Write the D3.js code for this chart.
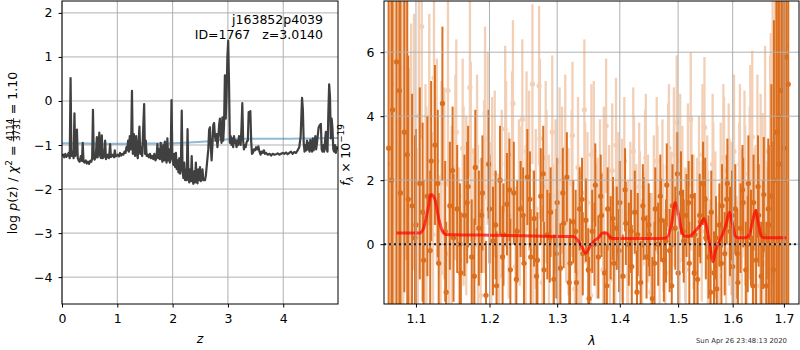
<!DOCTYPE html>
<html>
<head>
<meta charset="utf-8">
<script src="https://cdn.jsdelivr.net/npm/d3@7"></script>
<style>
body { margin: 0; background: #fff; }
svg { font-family: "DejaVu Sans", sans-serif; }
</style>
</head>
<body>
<script>
// left panel: log p(z), [z, value]
const logPz = [
  [0.00,-1.25],[0.02,-1.22],[0.04,-1.28],[0.06,-1.20],[0.08,-1.27],[0.10,-1.24],[0.12,-1.18],[0.14,-1.30],
  [0.155,0.52],[0.17,-1.25],[0.19,-1.15],[0.21,-1.30],[0.225,-0.28],[0.24,-1.25],[0.26,-1.10],[0.27,-0.65],
  [0.285,-1.30],[0.30,-1.35],[0.32,-1.38],[0.34,-1.25],[0.36,-1.36],[0.375,-0.95],[0.39,-1.38],[0.41,-1.40],
  [0.43,-1.35],[0.45,-1.42],[0.47,-1.38],[0.49,-1.43],[0.51,-1.36],[0.53,-1.38],[0.545,-1.30],[0.56,-0.20],
  [0.575,-1.30],[0.59,-1.33],[0.61,-1.28],[0.63,-0.82],[0.645,-1.28],[0.66,-1.05],[0.675,-0.72],[0.69,-1.25],
  [0.705,-1.30],[0.72,-0.78],[0.735,-1.30],[0.75,-1.28],[0.765,-1.25],[0.78,-0.90],[0.795,-1.32],[0.81,-1.28],
  [0.83,-1.22],[0.85,-1.30],[0.87,-0.98],[0.885,-1.27],[0.90,-1.25],[0.92,-1.22],[0.94,-1.28],[0.955,-1.12],
  [0.97,-1.26],[0.99,-1.24],[1.01,-1.22],[1.03,-1.26],[1.05,-1.18],[1.07,-1.24],[1.09,-1.20],[1.11,-1.22],
  [1.13,-1.15],[1.15,-1.18],[1.165,-1.05],[1.18,-1.12],[1.195,-0.90],[1.21,-1.15],[1.225,-0.80],[1.24,-1.10],
  [1.25,-0.95],[1.265,0.23],[1.28,-1.20],[1.30,-0.75],[1.32,-1.25],[1.34,-0.80],[1.355,-1.20],[1.37,-1.30],
  [1.385,-0.90],[1.40,-0.58],[1.415,-1.20],[1.43,-1.05],[1.45,-1.25],[1.47,-0.55],[1.485,-0.07],[1.50,-1.20],
  [1.515,-0.90],[1.53,-1.25],[1.55,-1.22],[1.57,-1.28],[1.59,-1.20],[1.61,-1.30],[1.63,-1.25],[1.65,-1.32],
  [1.67,-1.20],[1.69,-1.35],[1.71,-1.28],[1.725,-0.98],[1.74,-1.30],[1.755,-1.10],[1.77,-1.32],[1.785,-0.95],
  [1.80,-1.25],[1.815,-1.38],[1.83,-1.00],[1.845,-1.35],[1.86,-0.92],[1.875,-1.30],[1.89,-1.40],[1.905,-0.85],
  [1.92,-1.35],[1.935,-1.10],[1.95,-1.40],[1.965,-1.25],[1.98,0.02],[1.995,-1.30],[2.015,-1.45],[2.03,-1.20],
  [2.045,-1.50],[2.06,-1.18],[2.075,-1.55],[2.09,-1.35],[2.105,-1.62],[2.12,-1.30],[2.135,-1.65],[2.15,-1.45],
  [2.165,-0.22],[2.18,-1.60],[2.195,-1.75],[2.21,-1.40],[2.225,-1.80],[2.24,-1.55],[2.255,-1.80],[2.27,-0.64],
  [2.285,-1.70],[2.30,-1.85],[2.315,-1.55],[2.33,-1.82],[2.345,-1.25],[2.36,-1.80],[2.375,-1.88],[2.39,-1.60],
  [2.405,-1.85],[2.42,-1.40],[2.435,-1.82],[2.45,-1.87],[2.465,-1.55],[2.48,-1.80],[2.495,-1.50],[2.51,-1.82],
  [2.525,-1.78],[2.54,-1.55],[2.555,-1.80],[2.57,-1.78],[2.585,-1.80],[2.60,-1.70],[2.615,-1.50],[2.63,-1.30],
  [2.645,-1.10],[2.66,-0.65],[2.675,-0.60],[2.69,-1.05],[2.705,-1.35],[2.72,-1.00],[2.735,-0.55],[2.75,-0.50],
  [2.765,-0.80],[2.78,-0.90],[2.795,-0.75],[2.81,-1.05],[2.825,-0.85],[2.84,-0.55],[2.855,-0.40],[2.87,-0.80],
  [2.885,-0.95],[2.90,-0.37],[2.915,-0.90],[2.93,-0.55],[2.945,0.58],[2.96,-0.40],[2.975,0.10],[2.99,1.00],
  [3.005,1.37],[3.02,0.40],[3.035,-0.95],[3.05,-0.80],[3.065,-1.00],[3.08,-0.85],[3.095,-1.05],[3.11,-0.80],
  [3.125,-0.95],[3.14,-0.90],[3.155,-1.05],[3.17,-0.90],[3.185,-1.00],[3.20,-0.80],[3.215,-0.85],[3.23,-1.00],
  [3.245,-0.60],[3.26,-0.05],[3.275,-0.90],[3.29,-1.10],[3.305,-1.00],[3.32,-1.05],[3.335,-0.95],[3.35,-0.90],
  [3.36,-0.90],[3.375,-0.25],[3.39,-0.35],[3.405,-0.23],[3.42,-0.90],[3.435,-1.20],[3.45,-1.18],[3.47,-1.10],
  [3.49,-1.12],[3.51,-1.05],[3.53,-1.10],[3.55,-1.03],[3.57,-1.15],[3.59,-1.22],[3.61,-1.15],[3.63,-1.18],
  [3.65,-1.12],[3.67,-1.20],[3.69,-1.18],[3.72,-1.22],[3.75,-1.20],[3.78,-1.24],[3.81,-1.20],[3.84,-1.22],
  [3.87,-1.21],[3.90,-1.19],[3.93,-1.22],[3.96,-1.20],[3.99,-1.18],[4.02,-1.20],[4.05,-1.17],[4.08,-1.21],
  [4.11,-1.18],[4.14,-1.15],[4.17,-1.20],[4.20,-1.16],[4.23,-1.18],[4.26,-1.12],[4.29,-1.05],[4.315,-0.80],
  [4.34,0.07],[4.355,-0.20],[4.37,-0.95],[4.385,-1.15],[4.40,-1.00],[4.415,-1.12],[4.43,-0.90],[4.445,-1.10],
  [4.46,-0.95],[4.475,-1.15],[4.49,-0.88],[4.505,-1.05],[4.52,-1.15],[4.535,-0.85],[4.55,-1.12],[4.565,-1.00],
  [4.58,-0.80],[4.595,-1.10],[4.61,-0.95],[4.64,-0.60],[4.66,-0.55],[4.68,-0.52],[4.695,-1.10],[4.71,-1.15],
  [4.725,-1.00],[4.74,-1.15],[4.755,-0.92],[4.77,-0.70],[4.785,-1.10],[4.80,-1.15],[4.815,-0.30],[4.83,0.38],
  [4.845,0.10],[4.86,-0.85],[4.875,-0.40],[4.89,-0.62],[4.905,-1.10],[4.92,-1.15],[4.935,-1.00],[4.95,-1.18],
  [4.97,-1.05],[4.99,-1.10]
];
const priorPz = [
  [0,-0.96],[0.5,-0.965],[1,-0.97],[1.5,-0.965],[2,-0.96],[2.3,-0.945],[2.6,-0.92],[2.9,-0.88],
  [3.2,-0.86],[3.5,-0.855],[4,-0.86],[4.5,-0.85],[4.99,-0.84]
];
const zTicks = [0, 1, 2, 3, 4];
const pzTicks = [-4, -3, -2, -1, 0, 1, 2];

// right panel: spectra [lambda, flux, err]
const specDark = [
  [1.065,3.0,9],[1.070,4.2,9],[1.075,5.7,9],[1.080,1.6,8],[1.085,3.5,5],[1.090,1.4,4.5],[1.095,1.2,3.5],[1.100,0.6,3],
  [1.105,1.9,3],[1.110,-0.5,2.5],[1.115,1.5,2.5],[1.120,2.6,2.5],[1.125,3.1,2.5],[1.130,-0.6,2.2],[1.135,4.4,2.4],[1.140,-1.5,2.2],
  [1.145,1.2,2],[1.150,0.2,2],[1.155,1.1,2],[1.160,-0.9,1.9],[1.165,0.9,1.9],[1.170,1.8,1.9],[1.175,-0.4,1.8],[1.180,2.4,1.8],
  [1.185,0.5,1.8],[1.190,1.6,1.8],[1.195,-1.6,1.7],[1.200,1.1,1.7],[1.205,0.1,1.7],[1.210,-1.3,1.7],[1.215,2.0,1.7],[1.220,0.3,1.6],
  [1.225,1.25,1.6],[1.230,-0.8,1.6],[1.235,1.6,1.6],[1.240,0.4,1.6],[1.245,1.1,1.5],[1.250,-0.6,1.5],[1.255,2.1,1.5],[1.260,-0.4,1.5],
  [1.265,0.8,1.5],[1.270,-0.5,1.5],[1.275,1.5,1.5],[1.280,-0.8,1.5],[1.285,0.3,1.4],[1.290,1.0,1.4],[1.295,-1.1,1.4],[1.300,1.3,1.4],
  [1.305,-0.75,1.4],[1.310,0.65,1.4],[1.315,2.1,1.4],[1.320,-0.6,1.4],[1.325,0.7,1.3],[1.330,-1.2,1.3],[1.335,1.1,1.3],[1.340,-0.3,1.3],
  [1.345,0.75,1.3],[1.350,-1.7,1.3],[1.355,0.4,1.3],[1.360,1.85,1.3],[1.365,-0.4,1.3],[1.370,0.9,1.3],[1.375,-0.9,1.3],[1.380,1.1,1.3],
  [1.385,0.2,1.3],[1.390,-0.6,1.3],[1.395,0.5,1.3],[1.400,1.3,1.3],[1.405,-1.0,1.3],[1.410,0.65,1.3],[1.415,0.0,1.3],[1.420,-0.7,1.3],
  [1.425,1.0,1.3],[1.430,0.3,1.3],[1.435,-1.2,1.3],[1.440,0.8,1.3],[1.445,-0.4,1.3],[1.450,0.3,1.3],[1.455,-1.7,1.3],[1.460,1.1,1.3],
  [1.465,0.0,1.3],[1.470,0.75,1.3],[1.475,-0.5,1.3],[1.480,1.85,1.3],[1.485,-0.2,1.3],[1.490,1.2,1.3],[1.495,0.5,1.3],[1.500,-0.9,1.3],
  [1.505,1.6,1.3],[1.510,0.1,1.3],[1.515,0.9,1.3],[1.520,-0.6,1.3],[1.525,1.5,1.3],[1.530,0.3,1.3],[1.535,-1.1,1.3],[1.540,0.7,1.3],
  [1.545,1.9,1.3],[1.550,0.2,1.3],[1.555,-0.4,1.3],[1.560,1.0,1.3],[1.565,-0.9,1.3],[1.570,-1.4,1.3],[1.575,0.6,1.3],[1.580,1.2,1.3],
  [1.585,-0.3,1.3],[1.590,1.9,1.4],[1.595,0.4,1.4],[1.600,-0.7,1.4],[1.605,1.1,1.4],[1.610,-1.2,1.4],[1.615,0.5,1.4],[1.620,1.3,1.4],
  [1.625,-0.8,1.5],[1.630,1.9,1.5],[1.635,0.2,1.5],[1.640,1.3,1.5],[1.645,-0.5,1.6],[1.650,0.9,1.6],[1.655,-1.0,1.7],[1.660,1.55,1.8],
  [1.665,-1.3,2],[1.670,0.6,2.5],[1.675,1.5,3.5],[1.680,2.0,5],[1.685,3.5,8],[1.690,2.5,9],[1.695,4.8,9],[1.700,3.0,9],
  [1.705,5.85,9]
];
const specDark2 = [
  [1.06875,2.0,9],[1.07875,4.8,9],[1.08875,2.8,4.8],[1.09875,0.2,3.2],[1.10875,1.0,2.8],[1.11875,-0.2,2.5],[1.12875,1.9,2.3],[1.13875,0.4,2.2],
  [1.14875,2.3,2.0],[1.15875,0.0,1.9],[1.16875,1.3,1.9],[1.17875,-1.0,1.8],[1.18875,0.9,1.8],[1.19875,2.5,1.7],[1.20875,0.6,1.7],[1.21875,-0.4,1.6],
  [1.22875,1.7,1.6],[1.23875,-1.1,1.6],[1.24875,0.9,1.5],[1.25875,1.4,1.5],[1.26875,-1.0,1.5],[1.27875,2.2,1.5],[1.28875,0.2,1.4],[1.29875,-0.3,1.4],
  [1.30875,1.6,1.4],[1.31875,-1.2,1.4],[1.32875,0.4,1.3],[1.33875,1.4,1.3],[1.34875,-0.8,1.3],[1.35875,0.0,1.3],[1.36875,1.5,1.3],[1.37875,-1.3,1.3],
  [1.38875,0.8,1.3],[1.39875,-0.2,1.3],[1.40875,1.7,1.3],[1.41875,0.4,1.3],[1.42875,-1.5,1.3],[1.43875,1.2,1.3],[1.44875,0.6,1.3],[1.45875,-0.6,1.3],
  [1.46875,1.5,1.3],[1.47875,0.1,1.3],[1.48875,-1.3,1.3],[1.49875,2.2,1.3],[1.50875,0.4,1.3],[1.51875,1.3,1.3],[1.52875,-0.9,1.3],[1.53875,0.9,1.3],
  [1.54875,1.4,1.3],[1.55875,-1.5,1.3],[1.56875,0.2,1.3],[1.57875,-0.6,1.3],[1.58875,1.4,1.4],[1.59875,0.9,1.4],[1.60875,-0.3,1.4],[1.61875,1.7,1.4],
  [1.62875,0.0,1.5],[1.63875,-1.3,1.5],[1.64875,1.8,1.6],[1.65875,0.3,1.7],[1.66875,1.1,2.2],[1.67875,-0.8,4],[1.68875,4.0,9],[1.69875,2.0,9],
  [1.70875,5.0,9]
];
const specLight = [
  [1.0675,2.5,9],[1.0725,5.0,9],[1.0775,3.8,9],[1.0825,2.0,7],[1.0875,4.5,5],[1.0925,1.0,4.5],[1.0975,3.2,4],[1.1025,-0.8,3.8],
  [1.1075,6.8,3.5],[1.1125,1.5,3.5],[1.1175,3.9,3.3],[1.1225,0.3,3.2],[1.1275,2.6,3.2],[1.1325,-0.9,3.0],[1.1375,1.9,3.0],[1.1425,4.8,3.0],
  [1.1475,0.8,2.9],[1.1525,2.4,2.9],[1.1575,-0.5,2.9],[1.1625,3.0,2.8],[1.1675,1.2,2.8],[1.1725,4.9,2.8],[1.1775,0.2,2.8],[1.1825,2.6,2.7],
  [1.1875,-1.6,2.7],[1.1925,1.8,2.7],[1.1975,3.3,2.7],[1.2025,0.5,2.7],[1.2075,2.2,2.6],[1.2125,-0.4,2.6],[1.2175,1.6,2.6],[1.2225,3.6,2.6],
  [1.2275,0.9,2.6],[1.2325,2.8,2.6],[1.2375,-0.7,2.5],[1.2425,1.4,2.5],[1.2475,3.9,2.5],[1.2525,0.6,2.5],[1.2575,2.3,2.5],[1.2625,5.0,2.5],
  [1.2675,1.1,2.5],[1.2725,4.95,2.5],[1.2775,-1.2,2.4],[1.2825,2.7,2.4],[1.2875,0.4,2.4],[1.2925,3.5,2.4],[1.2975,1.5,2.4],[1.3025,-0.6,2.3],
  [1.3075,2.0,2.3],[1.3125,3.0,2.3],[1.3175,0.7,2.3],[1.3225,1.9,2.3],[1.3275,-1.4,2.2],[1.3325,2.4,2.2],[1.3375,0.1,2.2],[1.3425,4.2,2.2],
  [1.3475,1.3,2.2],[1.3525,-1.6,2.2],[1.3575,2.9,2.2],[1.3625,0.4,2.1],[1.3675,1.8,2.1],[1.3725,-0.8,2.1],[1.3775,3.7,2.1],[1.3825,1.0,2.1],
  [1.3875,2.3,2.1],[1.3925,-0.3,2.1],[1.3975,1.5,2.0],[1.4025,0.2,2.0],[1.4075,2.6,2.0],[1.4125,-1.0,2.0],[1.4175,1.2,2.0],[1.4225,2.9,2.0],
  [1.4275,0.5,2.0],[1.4325,1.8,2.0],[1.4375,-0.6,2.0],[1.4425,2.2,2.0],[1.4475,0.8,2.0],[1.4525,-1.5,2.0],[1.4575,1.4,2.0],[1.4625,2.6,2.0],
  [1.4675,0.0,2.0],[1.4725,1.9,2.0],[1.4775,-0.9,2.0],[1.4825,2.4,2.0],[1.4875,0.9,2.0],[1.4925,2.8,2.1],[1.4975,3.8,2.1],[1.5025,-0.5,2.1],
  [1.5075,1.6,2.1],[1.5125,0.3,2.1],[1.5175,2.3,2.1],[1.5225,3.9,2.1],[1.5275,0.7,2.1],[1.5325,-1.2,2.1],[1.5375,1.8,2.2],[1.5425,0.4,2.2],
  [1.5475,3.65,2.2],[1.5525,1.2,2.2],[1.5575,-0.8,2.2],[1.5625,2.5,2.2],[1.5675,0.6,2.3],[1.5725,-1.4,2.3],[1.5775,1.5,2.3],[1.5825,2.7,2.3],
  [1.5875,-0.2,2.3],[1.5925,2.0,2.4],[1.5975,0.8,2.4],[1.6025,2.9,2.4],[1.6075,-1.0,2.5],[1.6125,1.3,2.5],[1.6175,0.5,2.5],[1.6225,2.2,2.6],
  [1.6275,-0.7,2.6],[1.6325,1.6,2.7],[1.6375,3.35,2.7],[1.6425,0.2,2.8],[1.6475,2.4,2.9],[1.6525,-1.3,3.0],[1.6575,1.0,3.1],[1.6625,2.9,3.3],
  [1.6675,-1.1,3.5],[1.6725,1.9,4],[1.6775,3.7,5],[1.6825,6.0,7],[1.6875,1.5,9],[1.6925,6.5,9],[1.6975,5.5,9],[1.7025,3.0,9]
];
const specLight2 = [
  [1.07375,3.2,9],[1.08375,5.5,8],[1.09375,2.4,4.5],[1.10375,4.0,3.7],[1.11375,0.9,3.4],[1.12375,5.2,3.2],[1.13375,2.1,3.0],[1.14375,-0.3,3.0],
  [1.15375,3.5,2.9],[1.16375,1.5,2.8],[1.17375,2.9,2.8],[1.18375,0.4,2.7],[1.19375,4.1,2.7],[1.20375,1.9,2.7],[1.21375,-1.0,2.6],[1.22375,2.5,2.6],
  [1.23375,4.4,2.6],[1.24375,1.2,2.5],[1.25375,2.9,2.5],[1.26375,-0.2,2.5],[1.27375,3.3,2.5],[1.28375,1.8,2.4],[1.29375,0.1,2.4],[1.30375,2.6,2.3],
  [1.31375,1.1,2.3],[1.32375,3.4,2.3],[1.33375,-0.9,2.2],[1.34375,1.6,2.2],[1.35375,2.8,2.2],[1.36375,0.6,2.1],[1.37375,2.2,2.1],[1.38375,-1.1,2.1],
  [1.39375,3.1,2.1],[1.40375,1.3,2.0],[1.41375,0.0,2.0],[1.42375,2.0,2.0],[1.43375,0.9,2.0],[1.44375,2.7,2.0],[1.45375,-0.4,2.0],[1.46375,1.7,2.0],
  [1.47375,0.5,2.0],[1.48375,3.0,2.0],[1.49375,1.4,2.1],[1.50375,2.6,2.1],[1.51375,-0.8,2.1],[1.52375,1.9,2.1],[1.53375,0.6,2.1],[1.54375,2.8,2.2],
  [1.55375,0.1,2.2],[1.56375,1.6,2.2],[1.57375,-1.0,2.3],[1.58375,2.3,2.3],[1.59375,1.0,2.3],[1.60375,-0.4,2.4],[1.61375,2.5,2.5],[1.62375,1.2,2.5],
  [1.63375,3.0,2.6],[1.64375,0.4,2.7],[1.65375,1.8,2.9],[1.66375,-0.6,3.2],[1.67375,2.6,4],[1.68375,4.5,8],[1.69375,3.4,9],[1.70375,6.2,9]
];
const modelSpec = [
  [1.075,0.35],[1.090,0.35],[1.105,0.35],[1.110,0.5],[1.115,1.0],[1.120,1.55],[1.125,1.4],[1.130,0.8],[1.135,0.4],[1.140,0.3],
  [1.16,0.29],[1.20,0.28],[1.25,0.26],[1.30,0.24],[1.325,0.24],[1.335,0.05],[1.345,-0.28],[1.352,-0.05],[1.358,0.1],[1.365,0.2],
  [1.372,0.35],[1.378,0.35],[1.385,0.2],[1.39,0.18],[1.42,0.18],[1.47,0.18],[1.48,0.2],[1.488,0.6],[1.495,1.3],[1.50,1.0],
  [1.505,0.5],[1.512,0.25],[1.52,0.25],[1.53,0.4],[1.54,0.6],[1.547,0.8],[1.553,0.4],[1.558,-0.1],[1.563,-0.55],[1.568,-0.2],
  [1.575,0.1],[1.582,0.35],[1.588,0.65],[1.594,1.0],[1.60,0.6],[1.605,0.25],[1.61,0.2],[1.625,0.2],[1.632,0.3],[1.638,0.7],
  [1.644,1.05],[1.65,0.6],[1.655,0.25],[1.66,0.2],[1.705,0.2]
];
const lamTicks = [1.1, 1.2, 1.3, 1.4, 1.5, 1.6, 1.7];
const fluxTicks = [0, 2, 4, 6];

const W = 800, H = 350;
const fs = 12.5;
const orange = '#d9650f';

const svg = d3.select('body').append('svg')
  .attr('width', W).attr('height', H);

// ---- left panel ----
const xz = d3.scaleLinear().domain([0, 4.99]).range([62, 338]);
const yp = d3.scaleLinear().domain([-4.61, 2.27]).range([304, 1]);

const defs = svg.append('defs');
defs.append('clipPath').attr('id', 'clipL').append('rect')
  .attr('x', 62).attr('y', 1).attr('width', 276).attr('height', 303);
defs.append('clipPath').attr('id', 'clipR').append('rect')
  .attr('x', 384).attr('y', 1).attr('width', 415).attr('height', 303);

let gL = svg.append('g');
function grid(g, x, y, xt, yt) {
  let gg = g.append('g').attr('stroke', '#b0b0b0').attr('stroke-width', 1);
  xt.forEach(t => gg.append('line').attr('x1', x(t)).attr('x2', x(t))
    .attr('y1', y.range()[0]).attr('y2', y.range()[1]));
  yt.forEach(t => gg.append('line').attr('y1', y(t)).attr('y2', y(t))
    .attr('x1', x.range()[0]).attr('x2', x.range()[1]));
}
grid(gL, xz, yp, zTicks, pzTicks);

let plotL = gL.append('g').attr('clip-path', 'url(#clipL)');
plotL.append('path').datum(priorPz)
  .attr('fill', 'none').attr('stroke', '#1f77b4').attr('stroke-opacity', 0.5).attr('stroke-width', 2)
  .attr('d', d3.line().x(d => xz(d[0])).y(d => yp(d[1])).curve(d3.curveMonotoneX));
plotL.append('path').datum(logPz)
  .attr('fill', 'none').attr('stroke', '#404040').attr('stroke-width', 2.2).attr('stroke-linejoin', 'round')
  .attr('d', d3.line().x(d => xz(d[0])).y(d => yp(d[1])));

function axes(g, x, y, xt, yt, xfmt, yfmt) {
  let ax = g.append('g').attr('transform', 'translate(0,' + y.range()[0] + ')')
    .call(d3.axisBottom(x).tickValues(xt).tickFormat(xfmt).tickSize(3.5).tickPadding(6.5));
  let ay = g.append('g').attr('transform', 'translate(' + x.range()[0] + ',0)')
    .call(d3.axisLeft(y).tickValues(yt).tickFormat(yfmt).tickSize(3.5).tickPadding(6));
  [ax, ay].forEach(a => {
    a.select('.domain').remove();
    a.attr('font-size', fs).attr('font-family', '"DejaVu Sans", sans-serif');
    a.selectAll('line').attr('stroke', '#000').attr('stroke-width', 1);
    a.selectAll('text').attr('fill', '#000');
  });
  g.append('rect').attr('x', x.range()[0]).attr('y', y.range()[1])
    .attr('width', x.range()[1] - x.range()[0]).attr('height', y.range()[0] - y.range()[1])
    .attr('fill', 'none').attr('stroke', '#000').attr('stroke-width', 1);
}
axes(gL, xz, yp, zTicks, pzTicks, d3.format('d'), d3.format('d'));

gL.append('text').attr('x', 323).attr('y', 24).attr('text-anchor', 'end')
  .attr('font-size', fs).text('j163852p4039');
gL.append('text').attr('x', 323).attr('y', 38.5).attr('text-anchor', 'end')
  .attr('font-size', fs).style('white-space', 'pre').text('ID=1767   z=3.0140');

gL.append('text').attr('x', 200).attr('y', 343).attr('text-anchor', 'middle')
  .attr('font-size', fs).attr('font-style', 'italic').text('z');

// left y label, built piece by piece
let labL = svg.append('g');
let cx = 0;
function piece(g, str, opt) {
  opt = opt || {};
  let t = g.append('text').attr('x', cx).attr('y', opt.y || 0)
    .attr('font-size', opt.size || fs)
    .attr('font-style', opt.italic ? 'italic' : 'normal').text(str);
  cx += t.node().getComputedTextLength() + (opt.gap || 0);
  return t;
}
piece(labL, 'log', {gap: 4.5});
piece(labL, 'p', {italic: true});
piece(labL, '(z)', {gap: 4.5});
piece(labL, '/', {gap: 4.5});
piece(labL, 'χ', {italic: true});
piece(labL, '2', {size: 9, y: -5.5, gap: 4});
piece(labL, '=', {gap: 4});
let num = labL.append('text').attr('y', -4.5).attr('font-size', 8.8).attr('text-anchor', 'middle').text('4114');
let den = labL.append('text').attr('y', 3).attr('font-size', 8.8).attr('text-anchor', 'middle').text('3731');
let fw = Math.max(num.node().getComputedTextLength(), den.node().getComputedTextLength()) + 1;
num.attr('x', cx + fw / 2); den.attr('x', cx + fw / 2);
labL.append('line').attr('x1', cx).attr('x2', cx + fw).attr('y1', -3.4).attr('y2', -3.4)
  .attr('stroke', '#000').attr('stroke-width', 0.8);
cx += fw + 4;
piece(labL, '=', {gap: 4});
piece(labL, '1.10');
labL.attr('transform', 'translate(17,153) rotate(-90) translate(' + (-cx / 2) + ',0)');

// ---- right panel ----
const xl = d3.scaleLog().domain([1.0592, 1.7306]).range([384, 799]);
const yf = d3.scaleLinear().domain([-1.87, 7.6]).range([304, 1]);

let gR = svg.append('g');
let plotR = gR.append('g').attr('clip-path', 'url(#clipR)');

function errSpec(g, data, op, w) {
  let s = g.append('g').attr('opacity', op);
  s.selectAll('line').data(data).enter().append('line')
    .attr('x1', d => xl(d[0])).attr('x2', d => xl(d[0]))
    .attr('y1', d => yf(d[1] - d[2])).attr('y2', d => yf(d[1] + d[2]))
    .attr('stroke', orange).attr('stroke-width', w);
  s.selectAll('circle').data(data).enter().append('circle')
    .attr('cx', d => xl(d[0])).attr('cy', d => yf(d[1])).attr('r', 2.6)
    .attr('fill', orange);
}
errSpec(plotR, specLight.concat(specLight2), 0.3, 2.3);
errSpec(plotR, specDark.concat(specDark2), 0.92, 2);

grid(gR, xl, yf, lamTicks, fluxTicks);

plotR.append('path').datum(modelSpec)
  .attr('fill', 'none').attr('stroke', '#ff0000').attr('stroke-opacity', 0.7).attr('stroke-width', 3)
  .attr('d', d3.line().x(d => xl(d[0])).y(d => yf(d[1])).curve(d3.curveMonotoneX));

gR.append('line').attr('x1', 384).attr('x2', 799).attr('y1', yf(0)).attr('y2', yf(0))
  .attr('stroke', '#000').attr('stroke-width', 2).attr('stroke-dasharray', '2,3').attr('opacity', 0.85);

axes(gR, xl, yf, lamTicks, fluxTicks, d3.format('.1f'), d3.format('d'));

gR.append('text').attr('x', 592).attr('y', 345).attr('text-anchor', 'middle')
  .attr('font-size', fs).attr('font-style', 'italic').text('λ');

let labR = svg.append('g');
cx = 0;
piece(labR, 'f', {italic: true});
piece(labR, 'λ', {italic: true, size: 8.8, y: 3, gap: 3.5});
piece(labR, '×', {gap: 3.5});
piece(labR, '10');
piece(labR, '−19', {size: 8.8, y: -5.5});
labR.attr('transform', 'translate(349.5,155) rotate(-90) translate(' + (-cx / 2) + ',0)');

svg.append('text').attr('x', 787).attr('y', 343).attr('text-anchor', 'end')
  .attr('font-size', 6.9).attr('fill', '#333').text('Sun Apr 26 23:48:13 2020');
</script>
</body>
</html>
